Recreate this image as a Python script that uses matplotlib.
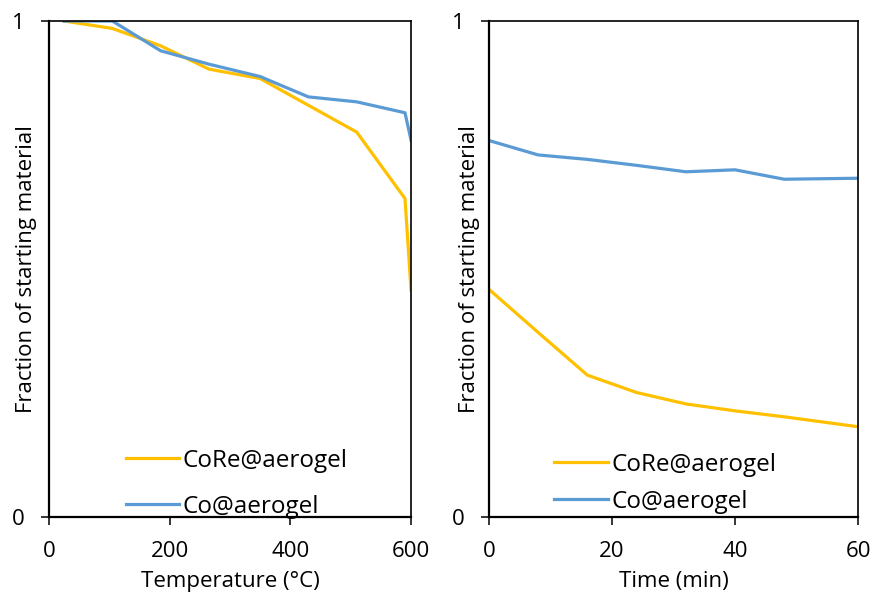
import matplotlib
matplotlib.use("Agg")
import matplotlib.pyplot as plt

plt.rcParams["font.family"] = ["Open Sans", "DejaVu Sans"]

# 温度实验
temp_c = [25, 105, 185, 265, 350, 430, 510, 590, 600]
core_temp = [1.0, 0.985, 0.95, 0.903, 0.884, 0.830, 0.776, 0.642, 0.458]
co_temp = [1.0, 1.0, 0.940, 0.913, 0.888, 0.847, 0.837, 0.815, 0.760]

# 时间实验
time_min = [0, 8, 16, 24, 32, 40, 48, 60]
core_time = [0.459, 0.372, 0.286, 0.251, 0.228, 0.214, 0.202, 0.182]
co_time = [0.759, 0.730, 0.721, 0.709, 0.696, 0.700, 0.681, 0.683]

YELLOW = "#FFC000"
BLUE = "#5B9BD5"
FS = 16
LEG_FS = 17.5

fig = plt.figure(figsize=(8.71, 6.02), dpi=100)
ax1 = fig.add_axes([0.0563, 0.1412, 0.4156, 0.8239])
ax2 = fig.add_axes([0.5614, 0.1412, 0.4237, 0.8239])


def style(ax, xmax, xstep, xlabel, ylab_x):
    ax.set_xlim(0, xmax)
    ax.set_ylim(0, 1)
    ax.set_xticks(range(0, xmax + 1, xstep))
    ax.set_yticks([0, 1])
    ax.set_yticklabels(["0", "1"])
    ax.tick_params(axis="both", direction="out", length=5.5, width=1.1,
                   labelsize=FS)
    ax.tick_params(axis="y", pad=12)
    ax.tick_params(axis="x", pad=12)
    for s in ["left", "bottom"]:
        ax.spines[s].set_linewidth(1.6)
    for s in ["top", "right"]:
        ax.spines[s].set_linewidth(1.2)
    ax.set_xlabel(xlabel, fontsize=FS, labelpad=6)
    ax.set_ylabel("Fraction of starting material", fontsize=FS)
    ax.yaxis.set_label_coords(ylab_x, 0.5)


ax1.plot(temp_c, core_temp, color=YELLOW, lw=2.3, label="CoRe@aerogel")
ax1.plot(temp_c, co_temp, color=BLUE, lw=2.3, label="Co@aerogel")
style(ax1, 600, 200, "Temperature (°C)", -0.032)
ax1.legend(loc="center left", bbox_to_anchor=(0.2127, 0.067), frameon=False,
           fontsize=LEG_FS, handlelength=2.18, handletextpad=0.16,
           labelspacing=0.9, borderpad=0, borderaxespad=0)

ax2.plot(time_min, core_time, color=YELLOW, lw=2.3, label="CoRe@aerogel")
ax2.plot(time_min, co_time, color=BLUE, lw=2.3, label="Co@aerogel")
style(ax2, 60, 20, "Time (min)", -0.024)
ax2.legend(loc="center left", bbox_to_anchor=(0.176, 0.068), frameon=False,
           fontsize=LEG_FS, handlelength=2.22, handletextpad=0.16,
           labelspacing=0.52, borderpad=0, borderaxespad=0)

fig.savefig("out.png", dpi=100)
